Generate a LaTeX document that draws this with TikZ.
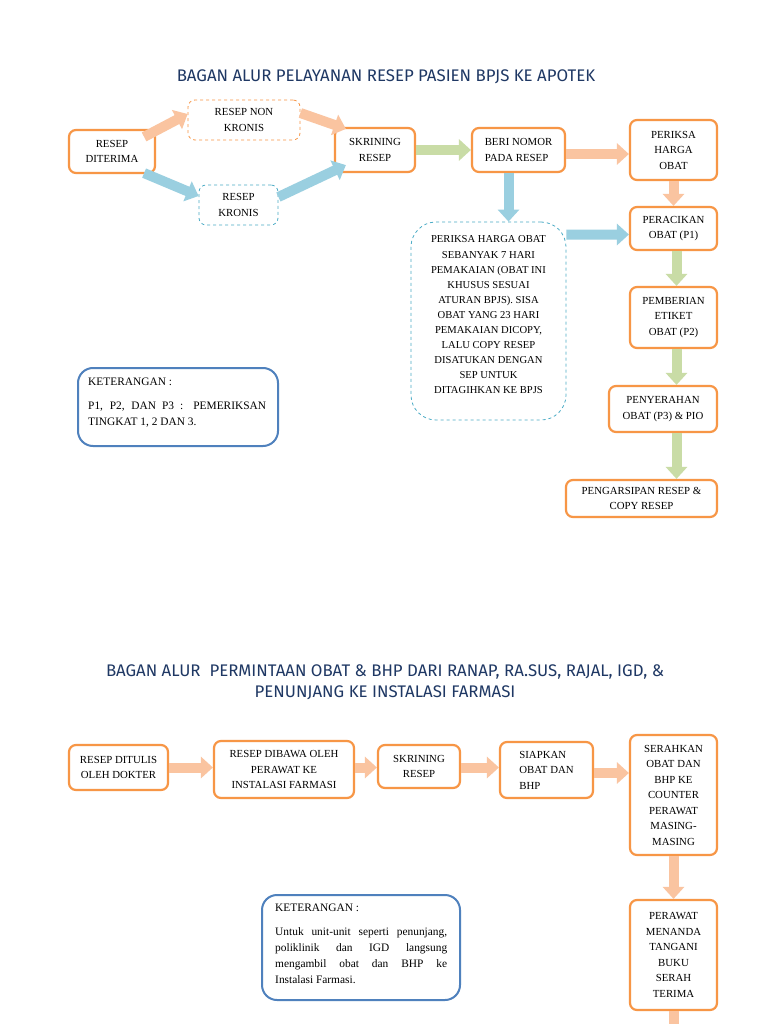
\documentclass[tikz,border=0pt]{standalone}
\usepackage{fontspec}
\setmainfont{Liberation Serif}
\newfontfamily\titlefont{Fira Sans}
\usetikzlibrary{arrows.meta,calc}
\definecolor{boxor}{HTML}{F79646}
\definecolor{boxbl}{HTML}{4F81BD}
\definecolor{boxtl}{HTML}{4BACC6}
\definecolor{arror}{HTML}{FAC4A0}
\definecolor{arrbl}{HTML}{9ACFE0}
\definecolor{arrgr}{HTML}{C9DCA6}
\definecolor{titlec}{HTML}{1F3864}
\begin{document}
\begin{tikzpicture}[x=1pt,y=-1pt,
  box/.style={draw=boxor, line width=2.2pt, rounded corners=7pt, fill=white, align=center,
    inner sep=2pt, font=\fontsize{10.8}{15.5}\selectfont},
  dbox/.style={box, line width=0.8pt, dashed},
  kbox/.style={draw=boxbl, line width=2pt, rounded corners=15pt, fill=white,
    inner sep=0pt},
  ktext/.style={font=\fontsize{11.4}{16.3}\selectfont, align=justify, anchor=north west, inner sep=0pt},
  barrow/.style={line width=10pt, -{Triangle[length=12pt, width=21pt]}},
  oarr/.style={barrow, draw=arror},
  barr/.style={barrow, draw=arrbl},
  garr/.style={barrow, draw=arrgr},
  ttl/.style={font=\titlefont\fontsize{16.8}{21}\selectfont, text=titlec, align=center}
]
\useasboundingbox (0,0) rectangle (768,1024);
\fill[white] (0,0) rectangle (768,1024);

% ---------- Part 1 ----------
\node[ttl] (t1) at (386,77) {BAGAN ALUR PELAYANAN RESEP PASIEN BPJS KE APOTEK};

\node[box, minimum width=86pt, minimum height=43pt] (a) at (112,151.5) {RESEP\\DITERIMA};
\node[dbox, draw=boxor, minimum width=112pt, minimum height=40pt] (nk) at (244,120) {RESEP NON\\KRONIS};
\node[dbox, draw=boxtl, minimum width=79pt, minimum height=40pt] (k) at (238.5,205) {RESEP\\KRONIS};
\node[box, minimum width=80pt, minimum height=44pt] (s) at (375,150) {SKRINING\\RESEP};
\node[box, minimum width=93pt, minimum height=44pt, align=left] (bn) at (518.5,150) {BERI NOMOR\\PADA RESEP};
\node[box, minimum width=87pt, minimum height=60pt] (ph) at (673.5,150) {PERIKSA\\HARGA\\OBAT};
\node[box, minimum width=87pt, minimum height=43pt] (pr) at (673.5,228.5) {PERACIKAN\\OBAT (P1)};
\node[box, minimum width=87pt, minimum height=61pt] (pe) at (673.5,317.5) {PEMBERIAN\\ETIKET\\OBAT (P2)};
\node[box, minimum width=108pt, minimum height=46pt] (py) at (663,409) {PENYERAHAN\\OBAT (P3) \& PIO};
\node[box, minimum width=151pt, minimum height=37pt] (pg) at (641.5,498.5) {PENGARSIPAN RESEP \&\\COPY RESEP};
\node[dbox, draw=boxtl, rounded corners=25pt, minimum width=155pt, minimum height=198pt] (big) at (488.5,321) {};
\node[font=\fontsize{10.6}{15.1}\selectfont, align=center, inner sep=0pt] (bigt) at (488.5,315)
  {PERIKSA HARGA OBAT\\SEBANYAK 7 HARI\\PEMAKAIAN (OBAT INI\\KHUSUS SESUAI\\ATURAN BPJS). SISA\\
   OBAT YANG 23 HARI\\PEMAKAIAN DICOPY,\\LALU COPY RESEP\\DISATUKAN DENGAN\\SEP UNTUK\\DITAGIHKAN KE BPJS};
\node[kbox, minimum width=200pt, minimum height=78pt] (k1) at (178,407) {};
\node[ktext, text width=178pt] (k1t) at (88,378)
  {KETERANGAN :\\[7pt] P1, P2, DAN P3 : PEMERIKSAN\linebreak TINGKAT 1, 2 DAN 3.};

\draw[oarr] ($(a.north east)+(-12,8)$) -- ($(nk.west)+(0,-6)$);
\draw[oarr] ($(nk.east)+(0,-7)$) -- ($(s.north west)+(12,2)$);
\draw[barr] ($(a.south east)+(-12,-1)$) -- ($(k.west)+(0,-9)$);
\draw[barr] ($(k.east)+(0,-8)$) -- ($(s.south west)+(12,-8)$);
\draw[garr] (s.east) -- (bn.west);
\draw[oarr] ($(bn.east)+(0,4)$) -- ($(ph.west)+(0,4)$);
\draw[barr] ($(bn.south)+(-10,0)$) -- ($(big.north -| bn.south)+(-10,0)$);
\draw[oarr] (ph.south) -- (pr.north);
\draw[barr] ($(big.north east)+(0,13)$) -- ($(pr.west)+(0,6)$);
\draw[garr] ($(pr.south)+(3,0)$) -- ($(pe.north)+(3,0)$);
\draw[garr] ($(pe.south)+(3,0)$) -- ($(py.north -| pe.south)+(3,0)$);
\draw[garr] ($(py.south -| pe.south)+(3,0)$) -- ($(pg.north -| pe.south)+(3,0)$);

% ---------- Part 2 ----------
\node[ttl] (t2) at (385,682) {BAGAN ALUR\ \ PERMINTAAN OBAT \& BHP DARI RANAP, RA.SUS, RAJAL, IGD, \&\\PENUNJANG KE INSTALASI FARMASI};

\node[box, minimum width=99pt, minimum height=45pt] (d1) at (118.5,767.5) {RESEP DITULIS\\OLEH DOKTER};
\node[box, minimum width=140pt, minimum height=57pt] (d2) at (284,769.5) {RESEP DIBAWA OLEH\\PERAWAT KE\\INSTALASI FARMASI};
\node[box, minimum width=82pt, minimum height=43pt] (d3) at (419,766.5) {SKRINING\\RESEP};
\node[box, minimum width=93pt, minimum height=56pt, align=left] (d4) at (546.5,770) {SIAPKAN\\OBAT DAN\\BHP};
\node[box, minimum width=87pt, minimum height=120pt] (d5) at (673.5,795) {SERAHKAN\\OBAT DAN\\BHP KE\\COUNTER\\PERAWAT\\MASING-\\MASING};
\node[box, minimum width=87pt, minimum height=110pt] (d6) at (673.5,955) {PERAWAT\\MENANDA\\TANGANI\\BUKU\\SERAH\\TERIMA};
\coordinate (dend) at (673.5,1060);

\node[kbox, minimum width=198pt, minimum height=105pt] (k2) at (361,947.5) {};
\node[ktext, text width=172pt] (k2t) at (275,904)
  {KETERANGAN :\\[7pt] Untuk unit-unit seperti penunjang,\linebreak poliklinik dan IGD langsung\linebreak mengambil obat dan BHP ke\linebreak Instalasi Farmasi.};

\draw[oarr] (d1.east) -- (d2.west |- d1.east);
\draw[oarr] (d2.east |- d1.east) -- (d3.west |- d1.east);
\draw[oarr] (d3.east |- d1.east) -- (d4.west |- d1.east);
\draw[oarr] ($(d4.east)+(0,3)$) -- ($(d5.west |- d4.east)+(0,3)$);
\draw[oarr] (d5.south) -- (d6.north);
\draw[oarr] (d6.south) -- (dend);
\end{tikzpicture}
\end{document}
